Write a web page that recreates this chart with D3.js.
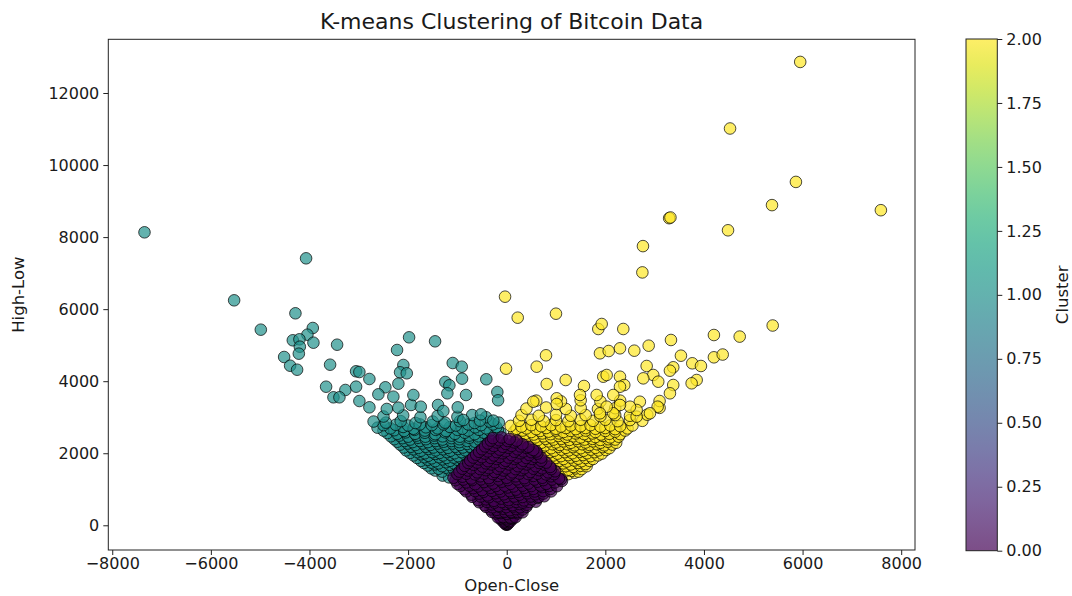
<!DOCTYPE html>
<html>
<head>
<meta charset="utf-8">
<script src="https://cdn.jsdelivr.net/npm/d3@7"></script>
<style>
  body { margin: 0; background: #fff; }
  svg { display: block; }
  text { font-family: "DejaVu Sans", sans-serif; fill: #1a1a1a; }
</style>
</head>
<body>
<svg id="chart" width="1072" height="596"></svg>
<script>
// Open-Close vs High-Low, one array of [openClose, highLow] pairs per k-means cluster

// cluster 0: small daily moves
const cluster0 = [
  [-10,20],[10,15],[-30,50],[30,60],[0,100],[-70,130],[70,140],[-20,160],[20,170],[-110,150],[110,160],
  [-20,30],[20,40],[0,60],[-60,80],[60,90],[-40,110],[45,120],[0,140],[-90,170],[0,190],[90,180],
  [-120,200],[120,210],[-150,240],[-50,260],[60,250],[150,260],[-30,290],[40,300],
  [-180,220],[-70,230],[70,215],[180,225],
  [-230,330],[-120,340],[0,320],[110,350],[230,330],[-180,380],[170,400],[-90,390],[80,380],
  [-300,370],[-170,360],[-40,375],[90,365],[220,370],[320,360],
  [-330,440],[-200,430],[-70,460],[60,420],[190,450],[320,440],
  [-420,510],[-290,500],[-150,515],[-10,505],[130,520],[270,500],[400,515],
  [-450,560],[-300,580],[-160,540],[-20,590],[120,560],[260,590],[410,570],
  [-560,640],[-400,650],[-250,630],[-100,645],[50,635],[190,650],[330,630],[470,645],[590,655],
  [-580,700],[-420,720],[-260,680],[-110,740],[40,700],[200,730],[350,690],[510,720],[630,760],
  [-700,790],[-530,800],[-360,780],[-190,805],[-20,790],[150,800],[320,785],[490,800],[650,790],[760,805],
  [-720,850],[-560,880],[-390,830],[-230,890],[-60,860],[100,900],[260,850],[420,890],[580,860],[740,880],
  [-820,940],[-640,950],[-470,930],[-300,955],[-120,940],[60,950],[230,930],[400,955],[570,940],[740,950],[900,940],
  [-860,1000],[-680,1030],[-500,980],[-330,1040],[-150,1010],[20,1050],[190,990],[360,1040],[540,1010],[720,1060],[890,1010],
  [-940,1090],[-760,1100],[-580,1080],[-400,1105],[-220,1090],[-40,1100],[140,1080],[320,1100],[500,1090],[680,1105],[860,1090],[1020,1085],
  [-1000,1150],[-820,1190],[-640,1140],[-460,1200],[-280,1160],[-100,1210],[80,1150],[260,1200],[440,1160],[620,1210],[800,1150],[980,1190],[1120,1230],
  [-1040,1250],[-880,1270],[-700,1255],[-520,1275],[-340,1250],[-160,1270],[20,1255],[200,1275],[380,1250],[560,1270],[740,1255],[920,1270],[1100,1280],
  [-1080,1320],[-900,1350],[-720,1300],[-540,1360],[-360,1310],[-180,1370],[0,1320],[180,1360],[360,1310],[540,1370],[720,1320],[900,1360],[1060,1300],
  [-1000,1420],[-820,1430],[-640,1410],[-460,1435],[-280,1420],[-100,1430],[80,1410],[260,1435],[440,1420],[620,1430],[800,1410],[960,1420],
  [-960,1490],[-780,1520],[-600,1470],[-420,1530],[-240,1480],[-60,1520],[120,1470],[300,1530],[480,1480],[660,1530],[840,1470],[980,1500],
  [-900,1570],[-720,1580],[-540,1560],[-360,1585],[-180,1570],[0,1580],[180,1560],[360,1585],[540,1570],[720,1580],[900,1560],
  [-850,1650],[-670,1680],[-490,1630],[-310,1690],[-130,1640],[50,1690],[230,1640],[410,1690],[590,1640],[770,1680],[880,1620],
  [-780,1730],[-600,1740],[-420,1720],[-240,1745],[-60,1730],[120,1740],[300,1720],[480,1745],[660,1730],[800,1740],
  [-740,1800],[-560,1830],[-380,1780],[-200,1840],[-20,1790],[160,1840],[340,1790],[520,1840],[700,1790],
  [-680,1880],[-500,1890],[-320,1870],[-140,1895],[40,1880],[220,1890],[400,1870],[580,1895],[700,1880],
  [-620,1960],[-440,1990],[-260,1940],[-80,2000],[100,1950],[280,2000],[460,1950],[620,1990],
  [-560,2040],[-380,2050],[-200,2030],[-20,2055],[160,2040],[340,2050],[500,2030],[600,2050],
  [-500,2110],[-320,2140],[-140,2100],[40,2150],[220,2110],[400,2150],[540,2090],
  [-440,2190],[-260,2200],[-80,2180],[100,2205],[280,2190],[440,2180],
  [-380,2270],[-200,2300],[-20,2260],[160,2300],[320,2250],
  [-320,2350],[-150,2360],[20,2340],[200,2350],
  [-280,2420],[-100,2440],[60,2400]
];

// cluster 1: large drops (Open > Close)
const cluster1 = [
  [-1300,1380],[-1170,1330],
  [-1450,1520],[-1310,1490],[-1160,1540],[-1030,1470],
  [-1530,1580],[-1380,1570],[-1230,1600],[-1080,1570],
  [-1600,1660],[-1460,1690],[-1310,1640],[-1160,1680],[-990,1620],
  [-1680,1730],[-1530,1740],[-1380,1720],[-1230,1750],[-1070,1720],[-920,1740],
  [-1740,1790],[-1600,1820],[-1450,1780],[-1300,1830],[-1150,1790],[-1000,1820],[-870,1770],
  [-1820,1870],[-1670,1890],[-1520,1860],[-1370,1890],[-1220,1870],[-1070,1880],[-920,1860],[-790,1880],
  [-1890,1940],[-1740,1970],[-1590,1930],[-1450,1980],[-1290,1940],[-1140,1960],[-990,1920],[-850,1970],[-720,1940],
  [-1960,2010],[-1810,2030],[-1660,2000],[-1510,2030],[-1360,2010],[-1210,2030],[-1060,2000],[-910,2030],[-760,2010],[-640,2020],
  [-2040,2080],[-1890,2110],[-1740,2070],[-1590,2120],[-1440,2080],[-1290,2110],[-1140,2070],[-990,2120],[-840,2080],[-690,2110],[-580,2060],
  [-2090,2160],[-1940,2180],[-1790,2150],[-1640,2180],[-1490,2160],[-1340,2180],[-1190,2150],[-1040,2180],[-890,2160],[-740,2180],[-600,2150],
  [-2160,2240],[-2010,2270],[-1850,2230],[-1700,2270],[-1550,2230],[-1400,2270],[-1250,2240],[-1100,2270],[-950,2230],[-800,2260],[-650,2230],[-510,2260],
  [-2220,2320],[-2070,2340],[-1910,2310],[-1760,2340],[-1600,2310],[-1440,2340],[-1280,2320],[-1120,2340],[-960,2310],[-800,2340],[-640,2320],[-480,2330],
  [-2280,2390],[-2110,2420],[-1960,2380],[-1800,2430],[-1640,2390],[-1460,2420],[-1300,2380],[-1120,2420],[-960,2390],[-760,2430],[-560,2380],[-420,2410],
  [-2350,2470],[-2180,2490],[-2000,2460],[-1830,2490],[-1650,2460],[-1470,2490],[-1300,2470],[-1120,2490],[-950,2460],[-760,2490],[-570,2470],[-380,2480],[-250,2460],
  [-2420,2560],[-2220,2540],[-2050,2580],[-1860,2540],[-1660,2570],[-1450,2530],[-1250,2580],[-1050,2540],[-850,2570],[-650,2530],[-460,2570],[-260,2540],[-130,2580],
  [-2500,2630],[-2280,2640],[-2080,2620],[-1870,2650],[-1660,2630],[-1440,2650],[-1230,2620],[-1000,2650],[-780,2630],[-560,2650],[-340,2620],[-180,2650],
  [-2620,2710],[-2360,2690],[-2100,2730],[-1890,2680],[-1640,2720],[-1400,2690],[-1150,2730],[-900,2680],[-640,2720],[-420,2690],[-210,2730],
  [-2500,2780],[-2250,2790],[-2000,2770],[-1760,2800],[-1520,2780],[-1280,2800],[-1030,2770],[-780,2800],[-520,2780],[-280,2800],
  [-2700,2880],[-2450,2850],[-2150,2890],[-1850,2840],[-1500,2880],[-1250,2850],[-950,2890],[-650,2840],[-350,2880],[-160,2850],
  [-2500,3020],[-2100,3050],[-1750,3000],[-1400,3040],[-1000,3010],[-700,3060],[-420,3000],
  [-2432,3229],[-2197,3265],[-1940,3340],[-1743,3292],[-1393,3340],[-1285,3173],[-880,2923],[-541,2905],[-272,2905],
  [-7346,8133],[-4069,7411],[-5528,6245],[-4285,5885],[-4987,5430],[-3933,5477],[-4042,5291],[-4338,5135],
  [-4204,5163],[-3920,5069],[-4196,4958],[-4216,4764],[-3440,5013],[-1980,5218],[-1453,5107],[-2224,4866],
  [-4514,4672],[-4393,4430],[-4251,4319],[-3582,4458],[-2096,4450],[-2163,4247],[-2027,4219],[-3055,4275],
  [-2988,4255],[-2785,4061],[-1095,4505],[-912,4403],[-906,4070],[-414,4053],[-1245,3978],[-1163,3886],
  [-3663,3847],[-3272,3756],[-3055,3848],[-3514,3553],[-3393,3553],[-2461,3831],[-2603,3636],[-2197,3931],
  [-2299,3570],[-1893,3617],[-2988,3450],[-2785,3275],[-1204,3664],[-825,3617],[-190,3700],[-175,3470],
  [-993,3275],[-521,3081]
];

// cluster 2: large gains (Close > Open)
const cluster2 = [
  [1250,1420],[1380,1460],
  [1180,1490],[1320,1510],[1460,1490],
  [1100,1560],[1250,1540],[1400,1580],[1520,1560],
  [1050,1630],[1200,1640],[1350,1620],[1500,1650],[1620,1640],
  [1000,1700],[1150,1720],[1300,1690],[1450,1730],[1600,1700],
  [920,1780],[1070,1790],[1220,1770],[1370,1800],[1520,1780],[1680,1790],
  [860,1850],[1000,1870],[1150,1840],[1300,1880],[1450,1850],[1600,1870],[1750,1840],
  [800,1930],[950,1940],[1100,1920],[1250,1950],[1400,1930],[1550,1950],[1700,1920],[1850,1940],
  [730,2000],[880,2030],[1030,1990],[1180,2030],[1330,2000],[1480,2040],[1630,2000],[1780,2030],[1930,1990],
  [660,2080],[810,2090],[960,2070],[1110,2100],[1260,2080],[1410,2100],[1560,2070],[1710,2100],[1860,2080],[2010,2090],
  [600,2150],[750,2180],[900,2140],[1050,2180],[1200,2150],[1350,2170],[1500,2140],[1650,2180],[1800,2150],[1950,2170],[2080,2140],
  [480,2230],[630,2240],[780,2220],[930,2250],[1080,2230],[1230,2250],[1380,2220],[1530,2250],[1680,2230],[1830,2250],[1980,2220],[2140,2240],
  [390,2300],[550,2330],[700,2290],[850,2330],[1000,2300],[1150,2330],[1300,2290],[1450,2330],[1600,2300],[1750,2330],[1900,2290],[2050,2320],[2220,2290],
  [320,2380],[480,2390],[630,2370],[790,2400],[950,2380],[1110,2400],[1270,2370],[1420,2400],[1580,2380],[1740,2400],[1900,2370],[2060,2390],[2200,2380],
  [250,2450],[420,2480],[580,2440],[750,2470],[900,2440],[1050,2480],[1200,2450],[1350,2470],[1500,2440],[1650,2480],[1800,2450],[1950,2480],[2100,2440],[2270,2460],
  [200,2530],[380,2540],[550,2520],[720,2550],[890,2530],[1060,2550],[1230,2520],[1400,2550],[1570,2530],[1740,2550],[1910,2520],[2080,2540],[2300,2530],
  [150,2600],[320,2630],[500,2590],[680,2620],[850,2600],[1000,2630],[1150,2590],[1300,2620],[1450,2600],[1600,2630],[1800,2590],[2000,2620],[2200,2600],[2400,2630],
  [200,2680],[400,2690],[600,2670],[800,2700],[1000,2680],[1200,2700],[1400,2670],[1600,2700],[1800,2680],[2000,2700],[2200,2670],[2450,2690],
  [80,2760],[300,2740],[500,2780],[700,2750],[900,2780],[1100,2740],[1300,2770],[1500,2750],[1700,2780],[1900,2740],[2100,2770],[2300,2750],[2550,2770],
  [250,2900],[500,2930],[750,2890],[1000,2920],[1250,2890],[1500,2930],[1750,2900],[2000,2930],[2250,2890],[2500,2920],[2750,2900],
  [300,3060],[650,3040],[1000,3070],[1300,3040],[1600,3060],[1900,3030],[2200,3060],[2500,3040],[2850,3070],
  [400,3240],[800,3270],[1200,3230],[1500,3260],[1850,3230],[2200,3250],[3100,3260],
  [600,3460],[1100,3440],[1500,3470],[1900,3440],[2300,3460],[2700,3430],[3100,3450],
  [5952,12863],[4529,11015],[5865,9532],[5380,8888],[7588,8747],[3294,8525],[3320,8545],[4488,8189],
  [2763,7750],[2751,7020],[-34,6346],[223,5763],[999,5874],[1857,5449],[1926,5588],[2364,5449],
  [3331,5144],[4202,5282],[4725,5238],[5394,5546],[4202,4663],[4380,4740],
  [1891,4774],[2068,4838],[2297,4913],[2587,4847],[2879,4986],[797,4719],[-14,4347],[608,4403],
  [3533,4708],[3763,4497],[3939,4422],[3377,4386],[3310,4292],[2838,4422],[2972,4172],[3073,3986],
  [2769,4079],[1958,4125],[2027,4172],[2297,4125],[2384,3894],[2297,3847],[3852,4033],[3750,3942],
  [3377,3894],[3310,3664],[811,3922],[1196,4033],[1567,3867],[1486,3617],[1824,3617],[2161,3617],
  [1014,3525],[1014,3367],[539,3431],[3061,3292],[2905,3109],[2635,3016],[2635,3200],[2500,3292],
  [2297,3339],[2161,3109],[2027,3292],[1891,3109]
];

const xTicks = [-8000, -6000, -4000, -2000, 0, 2000, 4000, 6000, 8000];
const yTicks = [0, 2000, 4000, 6000, 8000, 10000, 12000];
const colorbarTicks = [0, 0.25, 0.5, 0.75, 1, 1.25, 1.5, 1.75, 2];

const svg = d3.select("#chart");
const plot = { left: 108.3, right: 915, top: 39.3, bottom: 550 };
const bar = { left: 966, right: 997.3, top: 39, bottom: 550.7 };
const alpha = 0.7;

const x = d3.scaleLinear().domain([-8080, 8280]).range([plot.left, plot.right]);
const y = d3.scaleLinear().domain([-686, 13491]).range([plot.bottom, plot.top]);
const color = d3.scaleSequential(d3.interpolateViridis).domain([0, 2]);
const fmtMinus = d => (d < 0 ? "\u2212" + Math.abs(d) : String(d));

// points
const clusters = [
  { id: 1, pts: cluster1 },
  { id: 2, pts: cluster2 },
  { id: 0, pts: cluster0 }
];
const gPts = svg.append("g");
clusters.forEach(c => {
  gPts.selectAll(null).data(c.pts).enter().append("circle")
    .attr("cx", d => x(d[0]))
    .attr("cy", d => y(d[1]))
    .attr("r", 5.8)
    .attr("fill", color(c.id))
    .attr("fill-opacity", alpha)
    .attr("stroke", "#000")
    .attr("stroke-opacity", alpha)
    .attr("stroke-width", 1);
});

// axes
const tickFont = 16;
const labelFont = 16.5;
const xAxis = svg.append("g").attr("transform", `translate(0,${plot.bottom})`)
  .call(d3.axisBottom(x).tickValues(xTicks).tickSize(5).tickPadding(3).tickFormat(fmtMinus));
const yAxis = svg.append("g").attr("transform", `translate(${plot.left},0)`)
  .call(d3.axisLeft(y).tickValues(yTicks).tickSize(5).tickPadding(4).tickFormat(fmtMinus));
[xAxis, yAxis].forEach(a => {
  a.select(".domain").remove();
  a.selectAll(".tick line").attr("stroke", "#222");
  a.selectAll(".tick text").attr("font-size", tickFont).attr("font-family", "DejaVu Sans").attr("fill", "#222");
});

// frame
svg.append("rect")
  .attr("x", plot.left).attr("y", plot.top)
  .attr("width", plot.right - plot.left).attr("height", plot.bottom - plot.top)
  .attr("fill", "none").attr("stroke", "#222").attr("stroke-width", 1);

// titles
svg.append("text").attr("x", (plot.left + plot.right) / 2).attr("y", 29)
  .attr("text-anchor", "middle").attr("font-size", 22).text("K-means Clustering of Bitcoin Data");
svg.append("text").attr("x", (plot.left + plot.right) / 2).attr("y", 591)
  .attr("text-anchor", "middle").attr("font-size", labelFont).text("Open-Close");
svg.append("text").attr("transform", `translate(24,${(plot.top + plot.bottom) / 2}) rotate(-90)`)
  .attr("text-anchor", "middle").attr("font-size", labelFont).text("High-Low");

// colorbar
const defs = svg.append("defs");
const grad = defs.append("linearGradient").attr("id", "cbar")
  .attr("x1", 0).attr("y1", 1).attr("x2", 0).attr("y2", 0);
d3.range(0, 1.0001, 0.05).forEach(t => {
  grad.append("stop").attr("offset", t).attr("stop-color", d3.interpolateViridis(t)).attr("stop-opacity", alpha);
});
svg.append("rect")
  .attr("x", bar.left).attr("y", bar.top)
  .attr("width", bar.right - bar.left).attr("height", bar.bottom - bar.top)
  .attr("fill", "url(#cbar)").attr("stroke", "#222").attr("stroke-width", 1);
const cbScale = d3.scaleLinear().domain([0, 2]).range([bar.bottom, bar.top]);
const cbAxis = svg.append("g").attr("transform", `translate(${bar.right},0)`)
  .call(d3.axisRight(cbScale).tickValues(colorbarTicks).tickSize(5).tickPadding(4).tickFormat(d3.format(".2f")));
cbAxis.select(".domain").remove();
cbAxis.selectAll(".tick line").attr("stroke", "#222");
cbAxis.selectAll(".tick text").attr("font-size", tickFont).attr("font-family", "DejaVu Sans").attr("fill", "#222");
svg.append("text").attr("transform", `translate(1068,${(bar.top + bar.bottom) / 2}) rotate(-90)`)
  .attr("text-anchor", "middle").attr("font-size", labelFont).text("Cluster");
</script>
</body>
</html>
